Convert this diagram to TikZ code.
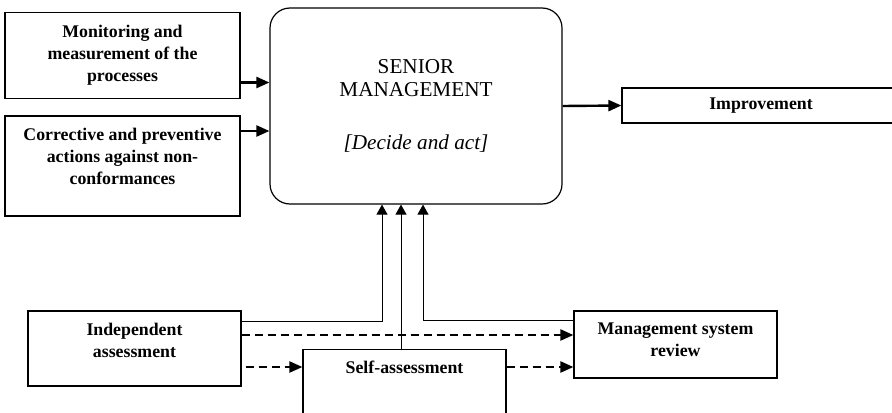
\documentclass[tikz,border=0pt]{standalone}
\usepackage{fontspec}
\setmainfont{Liberation Serif}
\usetikzlibrary{arrows.meta}

\begin{document}
\begin{tikzpicture}
[x=0.5pt,y=-0.5pt,
block/.style        = {rectangle, draw, line width=0.6pt, font=\fontsize{8.9}{11}\selectfont\bfseries, align=center, inner sep=2pt},
senior_block/.style = {rectangle, draw, line width=0.6pt, rounded corners=10pt, font=\fontsize{10.6}{11.5}\selectfont, align=center, minimum width=146pt, minimum height=98pt},
line/.style         = {draw, line width=1.2pt, -{Triangle[length=6.5pt,width=5.5pt]}},
feed/.style         = {draw, line width=0.5pt, -{Triangle[length=5pt,width=5.5pt]}},
dash_line/.style    = {draw, line width=1.1pt, dash pattern=on 4pt off 2.5pt, -{Triangle[length=6.5pt,width=5.5pt]}}
]
\clip (0,0) rectangle (892,412);

% top row
\node [block, minimum width=117.5pt, minimum height=43pt] (monitoring) at (122.5,55.5) {Monitoring and\\measurement of the\\processes};
\node [block, minimum width=117.5pt, minimum height=50pt, text depth=10pt] (corrective) at (122.5,166) {Corrective and preventive\\actions against non-\\conformances};
\node [senior_block] (senior) at (416,106) {SENIOR\\MANAGEMENT\\[15pt]\textit{[Decide and act]}};
\node [block, minimum width=139pt, minimum height=17.5pt] (improvement) at (761,105.5) {Improvement};

% bottom row
\node [block, minimum width=106.5pt, minimum height=37.5pt, text depth=8.5pt] (independent) at (134.5,348.5) {Independent\\assessment};
\node [block, anchor=north, minimum width=101.5pt, text height=6.5pt, inner ysep=5.5pt, text depth=40pt] (self_assess) at (404.5,349) {Self-assessment};
\node [block, minimum width=101.5pt, minimum height=33.5pt, text depth=4.5pt] (review) at (675.5,344.5) {Management system\\review};

% inputs and output
\path [line] ([yshift=-13.5pt]monitoring.east) -- ([yshift=-13.5pt]monitoring.east -| senior.west);
\path [line] ([yshift=17.5pt]corrective.east) -- ([yshift=17.5pt]corrective.east -| senior.west);
\path [line] (senior.east) -- (improvement.west);

% feedback to senior management
\path [feed] ([yshift=13.75pt]independent.east) -| ([xshift=-17pt]senior.south);
\path [feed] ([xshift=-1.75pt]self_assess.north) -- ([xshift=-1.75pt]self_assess.north |- senior.south);
\path [feed] ([yshift=12.25pt]review.west) -| ([xshift=3.5pt]senior.south);

% assessments to review
\begin{scope}[every path/.style=dash_line]
\path ([yshift=6.75pt]independent.east) -- ([yshift=6.75pt]independent.east -| review.west);
\path [shorten <=2pt] ([yshift=-9.25pt]independent.east) -- ([yshift=-9.25pt]independent.east -| self_assess.west);
\path ([yshift=-9.25pt]independent.east -| self_assess.east) -- ([yshift=-9.25pt]independent.east -| review.west);
\end{scope}

\end{tikzpicture}
\end{document}
